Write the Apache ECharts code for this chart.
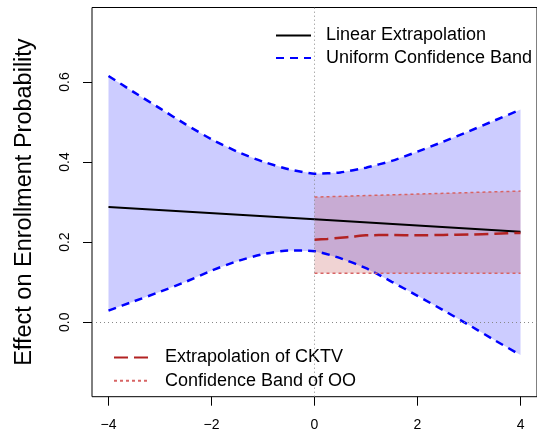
<!DOCTYPE html>
<html lang="en">
  <head>
    <meta charset="UTF-8" />
    <script src="https://cdn.jsdelivr.net/npm/echarts@6/dist/echarts.min.js"></script>
    <title>Extrapolation</title>
    <style>
      body { margin: 0; background: #fff; }
    </style>
  </head>
  <body>
    <div id="container" style="width: 537px; height: 434px;"></div>

    <script>
      // uniform confidence band around the linear extrapolation
      const bandX = [-4, -3.5, -3, -2.5, -2, -1.5, -1, -0.5, 0, 0.5, 1, 1.5, 2, 2.5, 3, 3.5, 4];
      const bandUpper = [0.615, 0.574, 0.534, 0.494, 0.457, 0.426, 0.401, 0.382, 0.371,
        0.374, 0.386, 0.403, 0.426, 0.451, 0.477, 0.504, 0.531];
      const bandLower = [0.029, 0.0525, 0.076, 0.101, 0.129, 0.1525, 0.17, 0.179, 0.1775,
        0.16, 0.135, 0.101, 0.066, 0.03, -0.007, -0.045, -0.082];

      // linear extrapolation
      const linearX = [-4, 0, 4];
      const linearY = [0.2875, 0.257, 0.226];

      // CKTV extrapolation
      const cktvX = [0, 0.25, 0.5, 0.75, 1, 1.5, 2, 2.5, 3, 3.5, 4];
      const cktvY = [0.206, 0.208, 0.211, 0.214, 0.217, 0.218, 0.217, 0.218, 0.219, 0.221, 0.223];

      // OO confidence band
      const ooX = [0, 4];
      const ooUpper = [0.3125, 0.3275];
      const ooLower = [0.122, 0.122];

      const xTicks = [-4, -2, 0, 2, 4];
      const xTickLabels = ["\u22124", "\u22122", "0", "2", "4"];
      const yTicks = [0, 0.2, 0.4, 0.6];
      const yTickLabels = ["0.0", "0.2", "0.4", "0.6"];

      const pairs = (xs, ys) => xs.map((x, i) => [x, ys[i]]);
      const triples = (xs, lo, hi) => xs.map((x, i) => [x, lo[i], hi[i]]);

      const font = "Liberation Sans, Arial, sans-serif";
      const blue = "#0000ff";
      const red = "#b22222";
      const pink = "#d86464";

      const chart = echarts.init(document.getElementById("container"));

      // shaded region between lower and upper bounds, drawn as one polygon
      function polygonSeries(rows, fill) {
        return {
          type: "custom",
          silent: true,
          data: rows,
          encode: { x: 0, y: [1, 2] },
          renderItem: function (params, api) {
            if (params.dataIndex !== 0) return null;
            const top = rows.map((r) => api.coord([r[0], r[2]]));
            const bottom = rows.map((r) => api.coord([r[0], r[1]])).reverse();
            return {
              type: "polygon",
              shape: { points: top.concat(bottom) },
              style: { fill: fill },
            };
          },
        };
      }

      const legendBase = {
        orient: "vertical",
        itemWidth: 35,
        itemHeight: 18,
        itemStyle: { opacity: 0 },
      };

      const option = {
        animation: false,
        textStyle: { fontFamily: font },
        grid: {
          left: 92,
          right: -1,
          top: 7.5,
          bottom: 37.3,
          show: true,
          borderColor: "#000",
          borderWidth: 1,
          backgroundColor: "transparent",
        },
        xAxis: {
          type: "value",
          min: -4.32,
          max: 4.32,
          splitLine: { show: false },
          axisLine: { show: false, onZero: false },
          axisTick: {
            show: true,
            length: 9,
            customValues: xTicks,
            lineStyle: { color: "#000" },
          },
          axisLabel: {
            customValues: xTicks,
            margin: 21,
            fontSize: 14,
            color: "#000",
            fontFamily: font,
            formatter: (v) => xTickLabels[xTicks.indexOf(v)],
          },
        },
        yAxis: {
          type: "value",
          min: -0.186,
          max: 0.786,
          name: "Effect on Enrollment Probability",
          nameLocation: "middle",
          nameGap: 55,
          nameTextStyle: { fontSize: 23.5, color: "#000", fontFamily: font },
          splitLine: { show: false },
          axisLine: { show: false, onZero: false },
          axisTick: {
            show: true,
            length: 9,
            customValues: yTicks,
            lineStyle: { color: "#000" },
          },
          axisLabel: {
            customValues: yTicks,
            rotate: 90,
            margin: 20,
            fontSize: 14,
            color: "#000",
            fontFamily: font,
            formatter: (v) => yTickLabels[yTicks.findIndex((t) => Math.abs(t - v) < 1e-9)],
          },
        },
        legend: [
          Object.assign({}, legendBase, {
            left: 270,
            top: 21.5,
            itemGap: 4.6,
            textStyle: { fontSize: 18, color: "#000", fontFamily: font, padding: [0, 0, 0, 10] },
            data: ["Linear Extrapolation", "Uniform Confidence Band"],
          }),
          Object.assign({}, legendBase, {
            left: 108,
            top: 343.5,
            itemGap: 5.3,
            textStyle: { fontSize: 18, color: "#000", fontFamily: font, padding: [0, 0, 0, 11] },
            data: ["Extrapolation of CKTV", "Confidence Band of OO"],
          }),
        ],
        series: [
          polygonSeries(triples(bandX, bandLower, bandUpper), "rgba(0,0,255,0.2)"),
          polygonSeries(triples(ooX, ooLower, ooUpper), "rgba(178,34,34,0.2)"),
          {
            name: "Linear Extrapolation",
            type: "line",
            symbol: "none",
            color: "#000",
            lineStyle: { color: "#000", width: 2 },
            data: pairs(linearX, linearY),
            markLine: {
              silent: true,
              symbol: "none",
              label: { show: false },
              lineStyle: { color: "#888", width: 1, type: [1, 3] },
              data: [{ xAxis: 0 }, { yAxis: 0 }],
            },
          },
          {
            name: "Uniform Confidence Band",
            type: "line",
            smooth: 0.2,
            symbol: "none",
            color: blue,
            lineStyle: { color: blue, width: 2.5, type: [8, 6] },
            data: pairs(bandX, bandUpper),
          },
          {
            name: "Uniform Confidence Band",
            type: "line",
            smooth: 0.2,
            symbol: "none",
            color: blue,
            lineStyle: { color: blue, width: 2.5, type: [8, 6] },
            data: pairs(bandX, bandLower),
          },
          {
            name: "Confidence Band of OO",
            type: "line",
            symbol: "none",
            color: pink,
            lineStyle: { color: pink, width: 1.5, type: [3, 3] },
            data: pairs(ooX, ooUpper),
          },
          {
            name: "Confidence Band of OO",
            type: "line",
            symbol: "none",
            color: pink,
            lineStyle: { color: pink, width: 1.5, type: [3, 3] },
            data: pairs(ooX, ooLower),
          },
          {
            name: "Extrapolation of CKTV",
            type: "line",
            smooth: 0.2,
            symbol: "none",
            color: red,
            lineStyle: { color: red, width: 2.5, type: [14, 6] },
            data: pairs(cktvX, cktvY),
          },
        ],
      };

      chart.setOption(option);
    </script>
  </body>
</html>
